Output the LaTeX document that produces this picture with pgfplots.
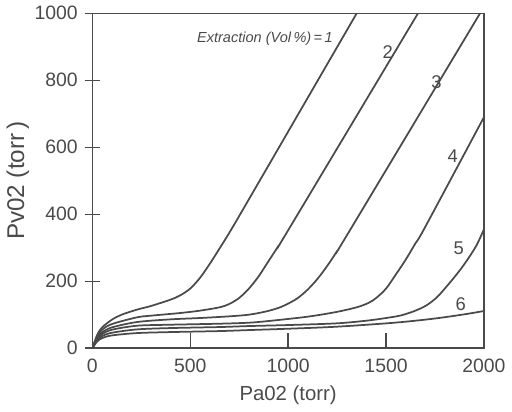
\documentclass[border=0pt]{standalone}
\usepackage{fontspec}
\setmainfont{Liberation Sans}
\usepackage{pgfplots}
\pgfplotsset{compat=1.18}
\definecolor{ink}{HTML}{4A4A4A}

\begin{document}
\begin{tikzpicture}
\begin{axis}[
  scale only axis,
  width=7.1cm, height=6.07cm,
  xmin=0, xmax=2000, ymin=0, ymax=1000,
  xtick={0,500,1000,1500,2000},
  ytick={0,200,400,600,800,1000},
  xtick pos=bottom, ytick pos=left,
  xtick align=inside, ytick align=center,
  major tick length=8pt,
  axis line style={ink, line width=0.7pt},
  every tick/.style={ink, line width=0.7pt},
  tick label style={font=\fontsize{10}{12}\selectfont, text=ink},
  xticklabel style={yshift=-2pt},
  label style={text=ink},
  xlabel style={font=\fontsize{10.5}{12}\selectfont},
  ylabel style={font=\fontsize{12.5}{14}\selectfont, yshift=-4pt},
  /pgf/number format/assume math mode=true,
  /pgf/number format/1000 sep={},
  xlabel={Pa02 (torr)},
  ylabel={Pv02 (torr\,)},
  curve/.style={ink, solid, line width=0.9pt, no marks, smooth, tension=0.5},
  clip=true,
]
% Extraction 1
\addplot[curve] coordinates {(0,0)(25,40)(50,62)(100,85)(150,100)(228,115)(300,126)(400,145)
 (450,158)(500,178)(550,210)(600,252)(650,298)(700,345)(800,445)(1350,1000)};
% Extraction 2
\addplot[curve] coordinates {(0,0)(25,35)(50,55)(100,72)(228,92)(300,97)(450,105)(550,112)
 (650,122)(700,132)(750,150)(800,178)(850,215)(900,260)(950,305)(1000,352)(1663,1000)};
% Extraction 3
\addplot[curve] coordinates {(0,0)(25,30)(50,47)(100,62)(228,78)(400,86)(550,90)(700,95)
 (800,100)(883,109)(950,120)(1000,133)(1050,150)(1100,175)(1150,207)(1200,246)
 (1250,290)(1300,337)(1980,1000)};
% Extraction 4
\addplot[curve] coordinates {(0,0)(25,27)(50,42)(100,55)(228,67)(400,70)(650,73)(800,76)
 (900,81)(1100,94)(1246,108)(1350,122)(1410,135)(1450,150)(1500,178)(1550,220)(1600,264)
 (1650,313)(1700,362)(2000,690)};
% Extraction 5
\addplot[curve] coordinates {(0,0)(25,24)(50,36)(100,46)(228,56)(400,60)(650,63)(800,66)
 (1000,69)(1246,74)(1400,82)(1500,90)(1578,98)(1650,112)(1707,128)(1760,152)(1806,182)
 (1860,220)(1906,256)(1960,305)(2000,355)};
% Extraction 6
\addplot[curve] coordinates {(0,0)(25,20)(50,30)(100,38)(228,45)(400,48)(650,51)(800,54)
 (1000,58)(1246,64)(1543,76)(1742,88)(1900,101)(2000,111)};

\node[anchor=west, font=\fontsize{7.5}{9}\selectfont\itshape, text=ink] at (axis cs:500,925) {Extraction (Vol\,\%)\,=\,1};
\node[font=\fontsize{9.5}{11}\selectfont, text=ink] at (axis cs:1509,883) {2};
\node[font=\fontsize{9.5}{11}\selectfont, text=ink] at (axis cs:1757,794) {3};
\node[font=\fontsize{9.5}{11}\selectfont, text=ink] at (axis cs:1841,574) {4};
\node[font=\fontsize{9.5}{11}\selectfont, text=ink] at (axis cs:1871,297) {5};
\node[font=\fontsize{9.5}{11}\selectfont, text=ink] at (axis cs:1881,131) {6};
\end{axis}
\end{tikzpicture}
\end{document}
